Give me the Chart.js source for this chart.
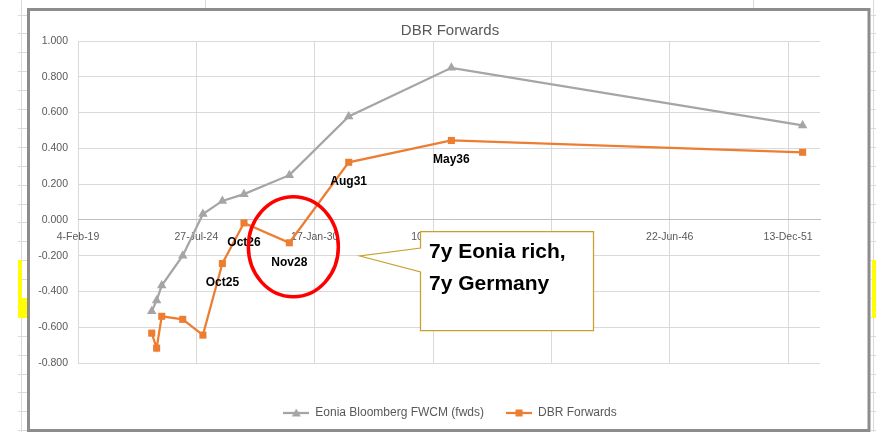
<!DOCTYPE html>
<html>
<head>
<meta charset="utf-8">
<script src="https://cdn.jsdelivr.net/npm/chart.js@4.4.1/dist/chart.umd.min.js"></script>
<style>
  html, body { margin: 0; padding: 0; background: #fff; overflow: hidden; }
</style>
</head>
<body>
<canvas id="myChart" width="876" height="432"></canvas>
<script>
// maturity dates of the bonds (x positions)
const maturities = ['2022-07-04', '2022-09-25', '2022-12-20', '2023-12-10', '2024-11-15',
                    '2025-10-10', '2026-10-10', '2028-11-15', '2031-08-15', '2036-05-15', '2052-08-15'];
// Eonia Bloomberg FWCM forwards
const eoniaFwds = [-0.511, -0.450, -0.367, -0.200, 0.033, 0.106, 0.144, 0.250, 0.578, 0.850, 0.528];
// DBR forwards
const dbrFwds = [-0.633, -0.717, -0.539, -0.556, -0.644, -0.244, -0.017, -0.128, 0.322, 0.444, 0.378];
const dbrLabels = ['', '', '', '', '', 'Oct25', 'Oct26', 'Nov28', 'Aug31', 'May36', ''];
const xTickDates = ['2019-02-04', '2024-07-27', '2030-01-17', '2035-07-10', '2040-12-31', '2046-06-22', '2051-12-13'];
const calloutLines = ['7y Eonia rich,', '7y Germany'];

const GREY = '#a5a5a5';
const ORANGE = '#ed7d31';
const TEXT = '#595959';
const FONT = '"Liberation Sans", Arial, sans-serif';
const MONTHS = ['Jan','Feb','Mar','Apr','May','Jun','Jul','Aug','Sep','Oct','Nov','Dec'];
const EPOCH = Date.UTC(1899, 11, 30);

// excel style day serials
const toSerial = s => Math.round((Date.parse(s) - EPOCH) / 864e5);
const fmtDate = v => {
    const d = new Date(EPOCH + v * 864e5);
    return d.getUTCDate() + '-' + MONTHS[d.getUTCMonth()] + '-' + String(d.getUTCFullYear()).slice(2);
};
const xTicks = xTickDates.map(toSerial);

function legendIcon(color, shape) {
    const c = document.createElement('canvas');
    c.width = 26; c.height = 12;
    const g = c.getContext('2d');
    g.strokeStyle = color; g.lineWidth = 2.25;
    g.beginPath(); g.moveTo(0, 6); g.lineTo(26, 6); g.stroke();
    g.fillStyle = color;
    if (shape === 'triangle') {
        g.beginPath(); g.moveTo(13, 1.5); g.lineTo(17.5, 9.5); g.lineTo(8.5, 9.5); g.closePath(); g.fill();
    } else {
        g.fillRect(9.5, 2.5, 7, 7);
    }
    return c;
}
const legendIcons = [legendIcon(GREY, 'triangle'), legendIcon(ORANGE, 'rect')];

// spreadsheet cells + chart object border behind everything
const sheetBackdrop = {
    id: 'sheetBackdrop',
    beforeDraw(chart) {
        const g = chart.ctx;
        g.save();
        g.fillStyle = '#fff';
        g.fillRect(0, 0, chart.width, chart.height);
        g.strokeStyle = '#d9d9d9';
        g.lineWidth = 1;
        g.beginPath();
        g.moveTo(21.5, 0); g.lineTo(21.5, 432);
        g.moveTo(873.5, 0); g.lineTo(873.5, 432);
        g.moveTo(205.5, 0); g.lineTo(205.5, 9);
        g.moveTo(753.5, 0); g.lineTo(753.5, 9);
        for (let y = 14.5; y < 432; y += 18.9) {
            const yy = Math.round(y) + 0.5;
            g.moveTo(18, yy); g.lineTo(27, yy);
            g.moveTo(871, yy); g.lineTo(876, yy);
        }
        g.stroke();
        g.fillStyle = '#ffff00';
        g.fillRect(18, 260, 4, 38);
        g.fillRect(18, 298, 9, 20);
        g.fillRect(872, 260, 4, 58);
        g.fillStyle = '#fff';
        g.fillRect(28, 9, 841, 421);
        g.strokeStyle = '#8c8c8c';
        g.lineWidth = 3;
        g.strokeRect(28.5, 9.5, 840.5, 421);
        g.restore();
    }
};

const dataLabels = {
    id: 'dataLabels',
    afterDatasetsDraw(chart) {
        const g = chart.ctx;
        const meta = chart.getDatasetMeta(1);
        g.save();
        g.font = 'bold 12px ' + FONT;
        g.fillStyle = '#000';
        g.textAlign = 'center';
        g.textBaseline = 'middle';
        dbrLabels.forEach((t, i) => {
            if (!t) return;
            const p = meta.data[i];
            g.fillText(t, p.x, p.y + 19.5);
        });
        g.restore();
    }
};

const annotations = {
    id: 'annotations',
    afterDraw(chart) {
        const g = chart.ctx;
        const p = chart.getDatasetMeta(1).data[7];
        g.save();
        // red ring round the Nov28 point
        g.strokeStyle = '#ff0000';
        g.lineWidth = 3.5;
        g.beginPath();
        g.ellipse(p.x + 4, p.y + 4, 45, 50, 0, 0, Math.PI * 2);
        g.stroke();
        // callout
        g.fillStyle = '#fff';
        g.strokeStyle = '#c9a030';
        g.lineWidth = 1.25;
        g.beginPath();
        g.moveTo(420.5, 231.5); g.lineTo(593.5, 231.5); g.lineTo(593.5, 330.5); g.lineTo(420.5, 330.5);
        g.lineTo(420.5, 272); g.lineTo(360, 256); g.lineTo(420.5, 248); g.closePath();
        g.fill(); g.stroke();
        g.fillStyle = '#000';
        g.font = 'bold 21px ' + FONT;
        g.textBaseline = 'middle';
        g.fillText(calloutLines[0], 429, 252);
        g.fillText(calloutLines[1], 429, 284);
        g.restore();
    }
};

const ctx = document.getElementById('myChart').getContext('2d');
const myChart = new Chart(ctx, {
    type: 'line',
    data: {
        datasets: [{
            label: 'Eonia Bloomberg FWCM (fwds)',
            data: maturities.map((d, i) => ({ x: toSerial(d), y: eoniaFwds[i] })),
            borderColor: GREY,
            backgroundColor: GREY,
            borderWidth: 2.25,
            pointStyle: 'triangle',
            pointRadius: 5.5,
            pointBorderWidth: 0,
            tension: 0
        }, {
            label: 'DBR Forwards',
            data: maturities.map((d, i) => ({ x: toSerial(d), y: dbrFwds[i] })),
            borderColor: ORANGE,
            backgroundColor: ORANGE,
            borderWidth: 2.25,
            pointStyle: 'rect',
            pointRadius: 5,
            pointBorderWidth: 0,
            tension: 0
        }]
    },
    options: {
        responsive: false,
        animation: false,
        devicePixelRatio: 1,
        layout: { padding: { left: 30, right: 6, top: 18, bottom: 3 } },
        scales: {
            x: {
                type: 'linear',
                position: { y: 0 },
                min: xTicks[0],
                max: 56040,
                afterBuildTicks: s => { s.ticks = xTicks.map(v => ({ value: v })); },
                ticks: {
                    callback: v => fmtDate(v),
                    autoSkip: false, maxRotation: 0,
                    padding: 11,
                    color: TEXT,
                    font: { family: FONT, size: 10.5 }
                },
                grid: { color: '#d9d9d9', drawTicks: false },
                border: { color: '#bfbfbf' }
            },
            x2: {
                type: 'linear',
                position: 'bottom',
                display: true,
                grid: { display: false },
                border: { display: false },
                ticks: { display: false },
                afterFit: s => { s.height = 22; }
            },
            y: {
                min: -0.8,
                max: 1.0,
                afterFit: s => { s.width = 48; },
                ticks: {
                    stepSize: 0.2,
                    padding: 10,
                    callback: v => (Math.abs(v) < 1e-9 ? 0 : v).toFixed(3),
                    color: TEXT,
                    font: { family: FONT, size: 10.5 }
                },
                grid: { color: '#d9d9d9', drawTicks: false },
                border: { display: false }
            },
            yR: {
                position: 'right',
                display: true,
                grid: { display: false },
                border: { display: false },
                ticks: { display: false },
                afterFit: s => { s.width = 50; }
            }
        },
        plugins: {
            title: {
                display: true,
                text: 'DBR Forwards',
                color: TEXT,
                font: { family: FONT, size: 15, weight: 'normal' },
                padding: { top: 4, bottom: 1 }
            },
            legend: {
                position: 'bottom',
                labels: {
                    usePointStyle: true,
                    pointStyleWidth: 26,
                    padding: 22,
                    color: TEXT,
                    font: { family: FONT, size: 12 },
                    generateLabels: chart => Chart.defaults.plugins.legend.labels.generateLabels(chart)
                        .map((l, i) => ({ ...l, pointStyle: legendIcons[i] }))
                }
            },
            tooltip: { enabled: false }
        }
    },
    plugins: [sheetBackdrop, dataLabels, annotations]
});
</script>
</body>
</html>
